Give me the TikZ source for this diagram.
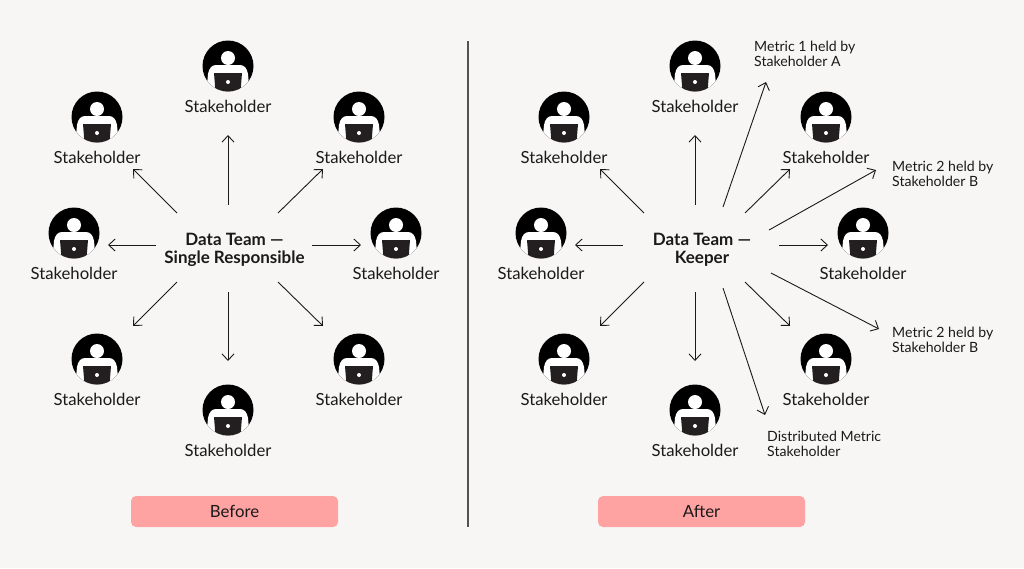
\documentclass[tikz,border=0pt]{standalone}
\usepackage{fontspec}
\setmainfont{Lato}
\usetikzlibrary{positioning,arrows.meta}
\definecolor{pagecol}{HTML}{F7F6F4}
\definecolor{pillcol}{HTML}{FFA2A2}
\definecolor{inkcol}{HTML}{1A1A1A}
\definecolor{laptopcol}{HTML}{231F20}

\begin{document}
\begin{tikzpicture}[x=1pt, y=-1pt,
		every node/.style={inner sep=0pt, text=inkcol},
		arrow/.style={draw=inkcol, line width=0.9pt, -{Straight Barb[length=6.5pt, width=12pt, line width=0.9pt]}},
		icon/.style={circle, fill=black, minimum size=51pt},
		stakelabel/.style={font=\fontsize{16.7}{18}\selectfont, below=8.5pt of #1},
		hub/.style={align=center, font=\fontsize{17}{18}\selectfont\bfseries},
		note/.style={align=left, anchor=west, font=\fontsize{14.1}{15}\selectfont},
		pill/.style={fill=pillcol, rounded corners=5pt, minimum width=207pt, minimum height=31pt, font=\fontsize{16.8}{18}\selectfont},
		divider/.style={draw=inkcol!75, line width=1.2pt},
		pics/person/.style={code={
			\begin{scope}
				\clip (0,0) circle (25.5);
				\fill[white] (-22,30) -- (-20,8) .. controls (-19,2) and (-16,-1) .. (-12,-1) -- (12,-1) .. controls (16,-1) and (19,2) .. (20,8) -- (22,30) -- cycle;
				\fill[laptopcol] (-14,7) -- (14,7) -- (12.5,26) -- (-12.5,26) -- cycle;
			\end{scope}
			\fill[white] (0,-8) circle (7);
			\fill[white] (0,16) circle (2);
		}},
		]

	\fill[pagecol] (0,0) rectangle (1024,568);
	\useasboundingbox (0,0) rectangle (1024,568);

	% both panels share the same ring
	\foreach \side/\dx in {before/0, after/467} {
		\begin{scope}[xshift=\dx pt]
			\foreach \name/\cx/\cy in {top/228/66, upleft/97/117, upright/359/117, left/74/233, right/396/233, lowleft/97/359, lowright/359/359, bottom/228/410} {
				\node[icon] (\side-\name) at (\cx,\cy) {};
				\pic at (\cx,\cy) {person};
				\node[stakelabel=\side-\name] (\side-\name-text) {Stakeholder};
			}
			\foreach \name/\ax/\ay/\bx/\by in {top/228/205/228/135, upleft/177/213/133/169, upright/278/213/323/169, left/156/245/108/245, right/312/245/361/245, lowleft/177/282/133/326, bottom/228/292/228/361, lowright/278/282/323/326} {
				\coordinate (\side-\name-from) at (\ax,\ay);
				\coordinate (\side-\name-to) at (\bx,\by);
				\draw[arrow] (\side-\name-from) -- (\side-\name-to);
			}
		\end{scope}
	}

	\node[hub] (team-before) at (234.5,249.5) {Data Team —\\Single Responsible};
	\node[hub] (team-after) at (702,249.5) {Data Team —\\Keeper};

	\node[note] (metric-a) at (754,54) {Metric 1 held by\\Stakeholder A};
	\node[note] (metric-b) at (892,174) {Metric 2 held by\\Stakeholder B};
	\node[note] (metric-c) at (892,340) {Metric 2 held by\\Stakeholder B};
	\node[note] (metric-d) at (767,443.5) {Distributed Metric\\Stakeholder};

	\foreach \name/\ax/\ay/\bx/\by in {a/723/207/766/82, b/769/230/876/170, c/771/273/879/329, d/723/288/765/415} {
		\coordinate (metric-\name-from) at (\ax,\ay);
		\coordinate (metric-\name-to) at (\bx,\by);
		\draw[arrow] (metric-\name-from) -- (metric-\name-to);
	}

	\coordinate (divider-top) at (468,41);
	\coordinate (divider-bottom) at (468,527);
	\draw[divider] (divider-top) -- (divider-bottom);

	\node[pill] (tag-before) at (234.5,511.5) {Before};
	\node[pill] (tag-after) at (701.5,511.5) {After};
\end{tikzpicture}
\end{document}
